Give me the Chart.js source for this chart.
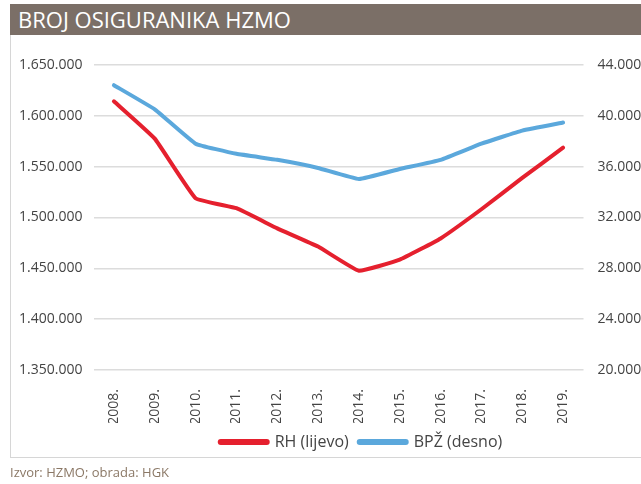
<!DOCTYPE html>
<html>
<head>
<meta charset="utf-8">
<script src="https://cdn.jsdelivr.net/npm/chart.js@4"></script>
<style>
  html, body { margin: 0; padding: 0; width: 641px; height: 484px; overflow: hidden; background: #fff; font-family: "Open Sans", sans-serif; }
  #title { position: absolute; left: 10px; top: 4px; width: 631px; height: 31px; background: #7b6f67; color: #fff; font-size: 22px; line-height: 31px; padding-left: 8px; box-sizing: border-box; }
  #box { position: absolute; left: 10px; top: 35px; width: 660px; height: 422px; border-left: 1px solid #d6d6d6; border-bottom: 1px solid #d6d6d6; }
  #wrap { position: absolute; left: 11px; top: 36px; width: 701px; height: 448px; }
  #footer { position: absolute; left: 10px; top: 463px; font-size: 13px; color: #8b7866; z-index: 2; }
</style>
</head>
<body>
<div id="title">BROJ OSIGURANIKA HZMO</div>
<div id="box"></div>
<div id="footer">Izvor: HZMO; obrada: HGK</div>
<div id="wrap"><canvas id="lineChart"></canvas></div>
<script>
// podaci
const godine = ['2008.', '2009.', '2010.', '2011.', '2012.', '2013.', '2014.', '2015.', '2016.', '2017.', '2018.', '2019.'];
const rh = [1614300, 1577600, 1519000, 1509100, 1489300, 1471400, 1447600, 1458500, 1479400, 1508100, 1538900, 1568700];
const bpz = [42410, 40510, 37810, 37010, 36540, 35900, 35030, 35820, 36540, 37810, 38840, 39470];

function tocke(v) {
    return String(v).replace(/\B(?=(\d{3})+(?!\d))/g, '.');
}

const font = { family: '"Open Sans", sans-serif', size: 14 };

const canvas = document.getElementById('lineChart');

new Chart(canvas, {
    type: 'line',
    data: {
        labels: godine,
        datasets: [{
            label: 'RH (lijevo)',
            data: rh,
            yAxisID: 'y',
            borderColor: '#e5202e',
            borderWidth: 4,
            borderCapStyle: 'round',
            borderJoinStyle: 'round',
            pointRadius: 0,
            tension: 0.1
        }, {
            label: 'BPŽ (desno)',
            data: bpz,
            yAxisID: 'y1',
            borderColor: '#5ba8dc',
            borderWidth: 4,
            borderCapStyle: 'round',
            borderJoinStyle: 'round',
            pointRadius: 0,
            tension: 0.1
        }]
    },
    options: {
        responsive: true,
        maintainAspectRatio: false,
        animation: false,
        layout: { padding: { top: 29, bottom: 24, left: 0, right: 0 } },
        plugins: {
            tooltip: { enabled: false },
            legend: {
                position: 'bottom',
                labels: {
                    color: '#444',
                    font: { family: '"Open Sans", sans-serif', size: 16 },
                    usePointStyle: true,
                    pointStyleWidth: 46,
                    padding: 11,
                    generateLabels: function(chart) {
                        return chart.data.datasets.map(function(ds, i) {
                            return {
                                text: ds.label,
                                datasetIndex: i,
                                pointStyle: 'line',
                                strokeStyle: ds.borderColor,
                                fillStyle: ds.borderColor,
                                lineWidth: 6,
                                lineCap: 'round',
                                fontColor: '#444'
                            };
                        });
                    }
                }
            }
        },
        scales: {
            x: {
                offset: true,
                grid: { display: false },
                border: { display: false },
                ticks: { color: '#444', font: font, maxRotation: 90, minRotation: 90, padding: 11 },
                afterFit: function(scale) { scale.height = 53; }
            },
            y: {
                position: 'left',
                min: 1350000,
                max: 1650000,
                grid: { color: '#dcdcdc', lineWidth: 1.5, drawTicks: false },
                border: { display: false },
                ticks: { stepSize: 50000, color: '#444', font: font, padding: 11, callback: function(v) { return tocke(v); } },
                afterFit: function(scale) { scale.width = 82.5; }
            },
            y1: {
                position: 'right',
                min: 20000,
                max: 44000,
                grid: { display: false, drawTicks: false },
                border: { display: false },
                ticks: { stepSize: 4000, color: '#444', font: font, padding: 14, callback: function(v) { return tocke(v); } },
                afterFit: function(scale) { scale.width = 128.5; }
            }
        }
    }
});
</script>
</body>
</html>
